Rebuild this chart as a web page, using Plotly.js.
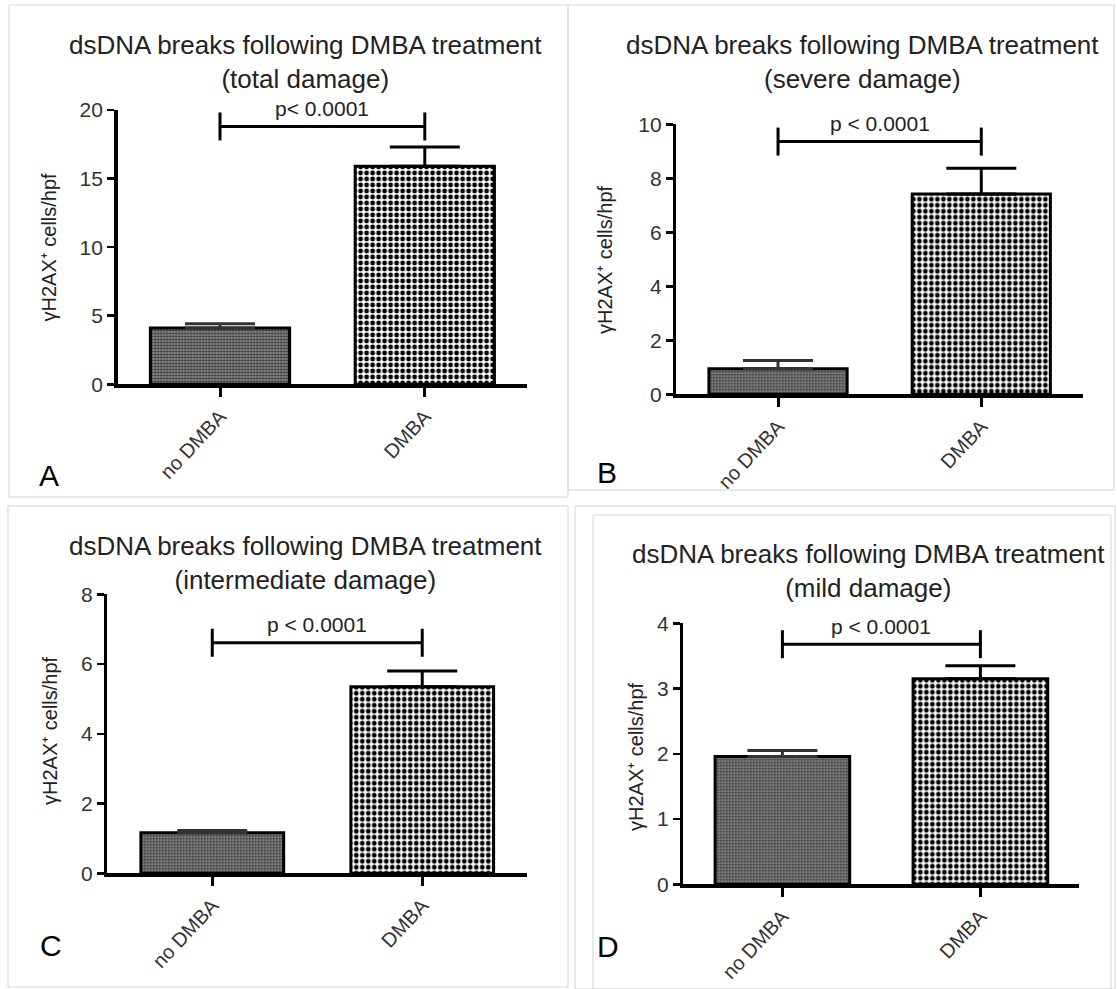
<!DOCTYPE html>
<html><head><meta charset="utf-8">
<script src="https://cdn.plot.ly/plotly-3.0.1.min.js"></script>
<style>html,body{margin:0;padding:0;background:#fff}#chart{width:1117px;height:989px}</style>
</head><body><div id="chart"></div>
<script>
// ---- data ----
const categories = ['no DMBA', 'DMBA'];
const panelLetters = ['A', 'B', 'C', 'D'];
const titleLine = 'dsDNA breaks following DMBA treatment';
const subtitles = ['(total damage)', '(severe damage)', '(intermediate damage)', '(mild damage)'];
const yAxisTitle = 'γH2AX⁺ cells/hpf';

const totalMean = [4.1, 15.9];
const totalErr = [0.32, 1.4];
const severeMean = [0.95, 7.42];
const severeErr = [0.3, 0.95];
const intermediateMean = [1.16, 5.35];
const intermediateErr = [0.07, 0.45];
const mildMean = [1.96, 3.15];
const mildErr = [0.09, 0.2];

const pLabels = ['p< 0.0001', 'p < 0.0001', 'p < 0.0001', 'p < 0.0001'];
const bracketLevels = [18.8, 9.36, 6.61, 3.68];
const yMax = [20, 10, 8, 4];
const yStep = [5, 2, 2, 1];

const means = [totalMean, severeMean, intermediateMean, mildMean];
const errs = [totalErr, severeErr, intermediateErr, mildErr];

// ---- styles per category ----
const barStyles = [
  {color: '#8a8a8a', pattern: {shape: '.', fgcolor: '#363636', bgcolor: '#9a9a9a', size: 3, solidity: 0.5}, err: '#333'},
  {color: '#ffffff', pattern: {shape: '.', fgcolor: '#000000', bgcolor: '#ffffff', size: 6, solidity: 0.5}, err: '#000'}
];

// ---- layout geometry (pixels in a 1117x989 page) ----
const W = 1117, H = 989;
const boxes = [
  {x0: 117.6, x1: 527.2, y0: 110, y1: 384.3, title: [305, 62], letter: [49, 475], ytitle: [48, 247.5]},
  {x0: 676.4, x1: 1082.9, y0: 124.3, y1: 394.3, title: [863, 61.7], letter: [606.5, 472.5], ytitle: [605, 260]},
  {x0: 107.3, x1: 527.2, y0: 594.3, y1: 873.3, title: [305, 563], letter: [51, 945], ytitle: [50, 731]},
  {x0: 683.4, x1: 1079.4, y0: 623.3, y1: 884.3, title: [868, 571], letter: [607.5, 946], ytitle: [636, 757]}
];
const px = v => v / W;
const py = v => 1 - v / H;

const FONT = 'Liberation Sans, Arial, Helvetica, sans-serif';
const traces = [];
const annotations = [];
const layout = {
  width: W, height: H,
  margin: {l: 0, r: 0, t: 0, b: 0},
  paper_bgcolor: '#fff', plot_bgcolor: '#fff',
  showlegend: false, barmode: 'overlay',
  font: {family: FONT, color: '#222'},
  annotations: annotations,
  shapes: []
};

boxes.forEach((b, i) => {
  const n = i + 1;
  const xa = 'x' + (n === 1 ? '' : n), ya = 'y' + (n === 1 ? '' : n);
  categories.forEach((cat, k) => {
    const st = barStyles[k];
    traces.push({
      type: 'bar', x: [cat], y: [means[i][k]], xaxis: xa, yaxis: ya,
      width: 0.68,
      marker: {color: st.color, line: {color: '#000', width: 3}, pattern: st.pattern},
      error_y: {type: 'data', array: [errs[i][k]], arrayminus: [0], symmetric: false,
                color: st.err, thickness: 3, width: 35},
      hoverinfo: 'skip'
    });
  });
  traces.push({
    type: 'scatter', mode: 'lines+markers', x: categories, y: [bracketLevels[i], bracketLevels[i]],
    xaxis: xa, yaxis: ya, cliponaxis: false,
    line: {color: '#000', width: 3},
    marker: {symbol: 'line-ns-open', size: 20, line: {color: '#000', width: 3}},
    hoverinfo: 'skip'
  });
  const axX = {
    domain: [px(b.x0), px(b.x1)], anchor: ya, range: [-0.5, 1.5], type: 'category',
    categoryorder: 'array', categoryarray: categories,
    showline: true, linecolor: '#000', linewidth: 3.5, showgrid: false, zeroline: false,
    ticks: 'outside', ticklen: 9, tickwidth: 3, tickcolor: '#000',
    tickangle: -47, tickfont: {size: 20, color: '#333', family: FONT}
  };
  const axY = {
    domain: [py(b.y1), py(b.y0)], anchor: xa, range: [0, yMax[i]], dtick: yStep[i], tick0: 0,
    showline: true, linecolor: '#000', linewidth: 3.5, showgrid: false, zeroline: false,
    ticks: 'outside', ticklen: 7, tickwidth: 2.5, tickcolor: '#000',
    tickfont: {size: 21, color: '#333', family: FONT}
  };
  layout['xaxis' + (n === 1 ? '' : n)] = axX;
  layout['yaxis' + (n === 1 ? '' : n)] = axY;

  annotations.push({xref: 'paper', yref: 'paper', x: px(b.title[0]), y: py(b.title[1]),
    xanchor: 'center', yanchor: 'middle', showarrow: false,
    text: titleLine + '<br>' + subtitles[i], font: {size: 26, color: '#222', family: FONT}});
  annotations.push({xref: 'paper', yref: 'paper', x: px(b.letter[0]), y: py(b.letter[1]),
    xanchor: 'center', yanchor: 'middle', showarrow: false,
    text: panelLetters[i], font: {size: 30, color: '#000', family: FONT}});
  annotations.push({xref: 'paper', yref: 'paper', x: px(b.ytitle[0]), y: py(b.ytitle[1]),
    xanchor: 'center', yanchor: 'middle', showarrow: false, textangle: -90,
    text: yAxisTitle, font: {size: 20, color: '#222', family: FONT}});
  annotations.push({xref: xa, yref: ya, x: 0.5, y: bracketLevels[i], yshift: 18,
    xanchor: 'center', yanchor: 'middle', showarrow: false,
    text: pLabels[i], font: {size: 21, color: '#222', family: FONT}});
});

// light panel frames
const frameLine = {color: '#d4d4d4', width: 1};
[[9, 5, 568, 497], [568, 5, 1114, 490], [8, 506, 568, 987], [575, 506, 1115, 989], [593, 515, 1111, 989]]
  .forEach(f => layout.shapes.push({type: 'rect', xref: 'paper', yref: 'paper',
    x0: px(f[0]), x1: px(f[2]), y0: py(f[3]), y1: py(f[1]), line: frameLine, layer: 'below'}));

Plotly.newPlot('chart', traces, layout, {displayModeBar: false, staticPlot: true});
</script></body></html>
